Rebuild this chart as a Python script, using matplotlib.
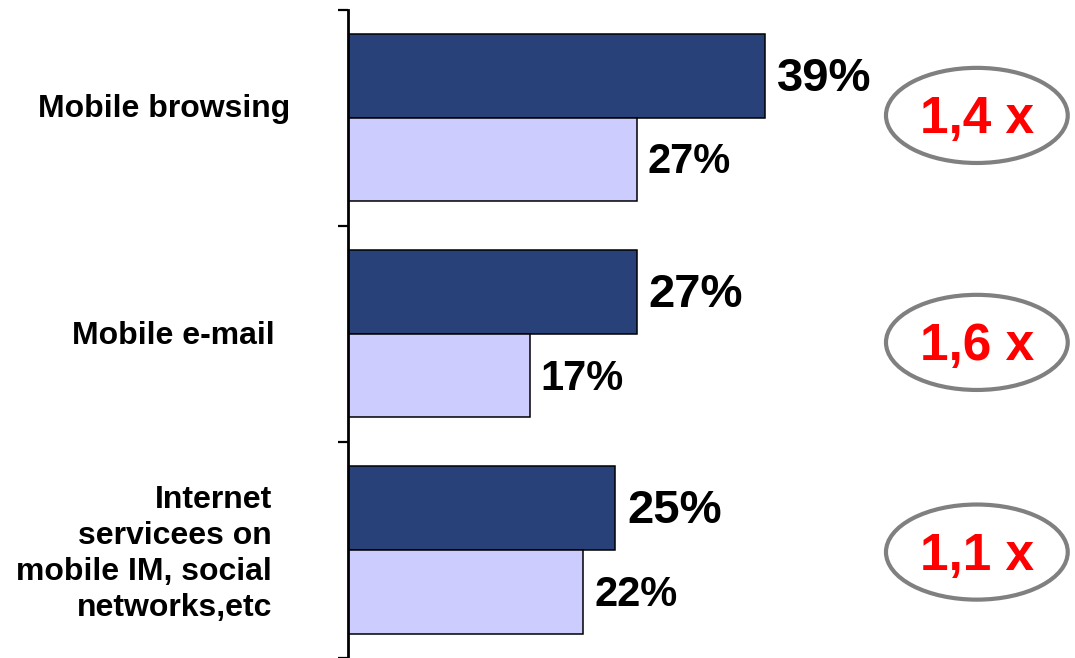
import matplotlib.pyplot as plt
from matplotlib.patches import Ellipse

plt.rcParams['font.family'] = ['Liberation Sans', 'DejaVu Sans']
plt.rcParams['font.weight'] = 'bold'

# usage shares, current period (dark) vs earlier period (light)
categories = ["Mobile browsing", "Mobile e-mail",
              "Internet\nservicees on\nmobile IM, social\nnetworks,etc"]
current = [39, 27, 25]
previous = [27, 17, 22]

dark = '#284178'
light = '#CCCCFF'
bar_h = 0.387

fig = plt.figure(figsize=(10.75, 6.58), dpi=100)
ax = fig.add_axes([348 / 1075, 0, 727 / 1075, 1 - 9.5 / 658])

pos = list(range(len(categories)))
ax.barh([p - bar_h / 2 for p in pos], current, height=bar_h, color=dark,
        edgecolor='black', linewidth=1.1)
ax.barh([p + bar_h / 2 for p in pos], previous, height=bar_h, color=light,
        edgecolor='black', linewidth=1.1)

# value labels next to each bar
for p, c, v in zip(pos, current, previous):
    ax.annotate(f"{c}%", xy=(c, p - bar_h / 2), xytext=(12, -3),
                textcoords='offset pixels', va='center', ha='left',
                fontsize=34, fontweight='bold')
    ax.annotate(f"{v}%", xy=(v, p + bar_h / 2), xytext=(11, -3),
                textcoords='offset pixels', va='center', ha='left',
                fontsize=30, fontweight='bold')

# growth factor in a grey ring on the right
ellipse_dy = [-0.01, 0.04, 0.01]
for p, c, v, dy in zip(pos, current, previous, ellipse_dy):
    ratio = f"{c / v:.1f}".replace('.', ',') + " x"
    tr = ax.get_yaxis_transform()
    ax.add_patch(Ellipse((0.865, p + dy), 0.25, 0.44, transform=tr,
                         facecolor='white', edgecolor='#808080',
                         linewidth=3, clip_on=False))
    ax.annotate(ratio, xy=(0.865, p + dy), xycoords=tr, xytext=(0, -4),
                textcoords='offset pixels', ha='center', va='center',
                color='#FF0000', fontsize=37, fontweight='bold')

# category names left of the axis
label_dx = [-58, -73, -76]
label_dy = [9, -2, -4]
for p, name, dx, dy in zip(pos, categories, label_dx, label_dy):
    ax.annotate(name, xy=(0, p), xycoords=ax.get_yaxis_transform(),
                xytext=(dx, dy), textcoords='offset pixels',
                ha='right', va='center', multialignment='right',
                fontsize=23, fontweight='bold', linespacing=1.26)

ax.set_xlim(0, 68)
ax.set_ylim(2.5, -0.5)
ax.set_yticks([-0.5, 0.5, 1.5, 2.5])
ax.set_yticklabels([])
ax.tick_params(axis='y', length=7, width=1.6, direction='out')
ax.set_xticks([])
for side in ['top', 'right', 'bottom']:
    ax.spines[side].set_visible(False)
ax.spines['left'].set_linewidth(2)

fig.savefig("out.png", dpi=100)
